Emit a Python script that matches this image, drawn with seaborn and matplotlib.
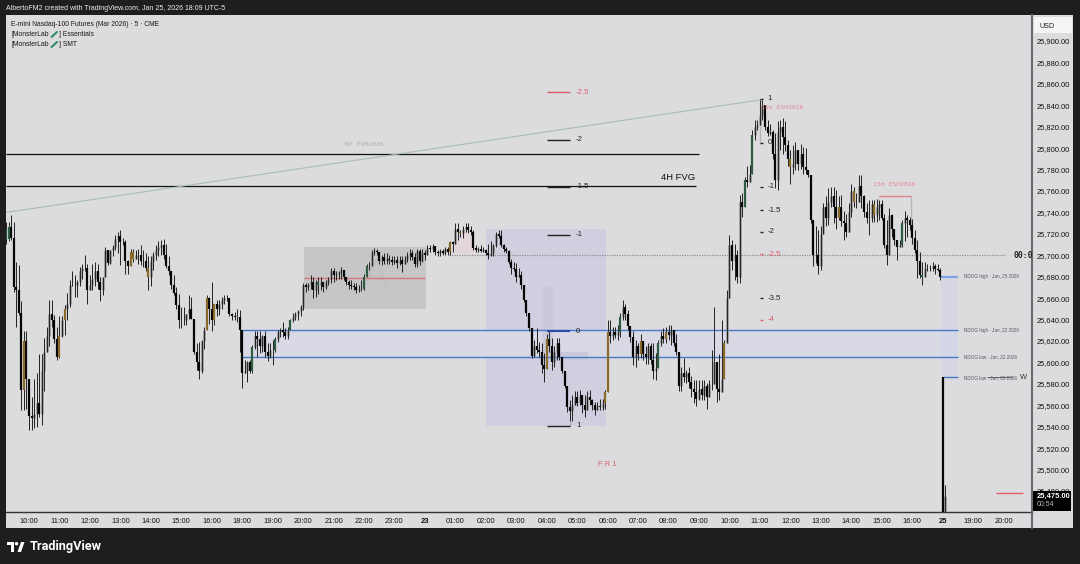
import matplotlib
matplotlib.use('Agg')
import matplotlib.pyplot as plt
from matplotlib.patches import Rectangle, Ellipse, Polygon
import pandas as pd
import seaborn as sns

# first bar of the data is bar -9 (09:35), bar 0 is the 10:00 candle
first_bar = -9

highs = [25731,25731,25738,25731,25694,25691,25657,25629,25629,25585,
    25568,25585,25590,25608,25608,25623,25633,25658,25658,25644,
    25633,25643,25643,25654,25665,25677,25685,25682,25677,25689,
    25692,25700,25692,25682,25692,25694,25692,25680,25680,25708,
    25705,25705,25710,25719,25722,25724,25716,25714,25696,25706,
    25706,25705,25706,25710,25705,25702,25699,25699,25703,25710,
    25713,25714,25715,25711,25699,25682,25682,25670,25664,25652,
    25652,25644,25663,25661,25641,25618,25619,25621,25633,25663,
    25661,25675,25655,25658,25658,25661,25663,25663,25658,25646,
    25647,25650,25649,25618,25602,25601,25602,25616,25629,25629,
    25629,25626,25629,25618,25618,25621,25624,25630,25632,25638,
    25632,25633,25641,25646,25647,25649,25654,25674,25674,25674,
    25682,25680,25677,25680,25680,25674,25677,25680,25688,25688,
    25685,25685,25689,25686,25680,25677,25677,25674,25674,25672,
    25677,25683,25692,25694,25705,25707,25706,25703,25700,25702,
    25702,25700,25699,25699,25699,25699,25699,25699,25703,25706,
    25705,25702,25706,25706,25706,25705,25710,25710,25711,25706,
    25705,25706,25706,25708,25708,25713,25713,25730,25730,25724,
    25727,25730,25730,25727,25724,25710,25708,25710,25708,25706,
    25711,25713,25711,25722,25724,25724,25711,25708,25705,25697,
    25694,25693,25688,25685,25671,25657,25644,25632,25621,25632,
    25619,25618,25609,25627,25629,25623,25615,25623,25623,25604,
    25590,25576,25565,25570,25573,25573,25574,25566,25570,25573,
    25574,25566,25563,25563,25566,25566,25574,25640,25640,25633,
    25633,25635,25646,25658,25655,25649,25633,25629,25621,25618,
    25627,25618,25615,25618,25618,25618,25609,25621,25629,25632,
    25633,25635,25635,25630,25627,25607,25596,25604,25593,25596,
    25587,25584,25584,25584,25584,25584,25581,25584,25612,25652,
    25593,25608,25640,25621,25668,25719,25714,25711,25705,25756,
    25758,25773,25783,25784,25817,25826,25826,25845,25845,25834,
    25826,25823,25817,25814,25825,25826,25828,25825,25808,25798,
    25803,25806,25798,25804,25801,25800,25780,25775,25730,25727,
    25724,25727,25749,25755,25763,25764,25764,25761,25755,25756,
    25741,25739,25749,25767,25764,25758,25775,25775,25756,25749,
    25752,25752,25752,25753,25752,25752,25739,25733,25744,25739,
    25724,25714,25714,25733,25741,25738,25736,25734,25724,25714,
    25703,25694,25694,25692,25691,25694,25692,25692,25688,25586,
    25486]

lows = [25711,25713,25714,25666,25633,25644,25556,25556,25557,25537,
    25537,25539,25540,25549,25542,25573,25615,25615,25633,25618,
    25602,25604,25624,25626,25640,25652,25671,25661,25661,25671,
    25678,25685,25655,25668,25668,25671,25669,25657,25663,25680,
    25691,25692,25699,25705,25702,25691,25710,25683,25683,25692,
    25694,25697,25692,25691,25689,25685,25668,25671,25686,25696,
    25699,25700,25697,25688,25682,25669,25663,25650,25632,25632,
    25635,25635,25641,25641,25608,25593,25585,25590,25613,25632,
    25636,25629,25635,25643,25644,25650,25655,25657,25643,25640,
    25640,25638,25610,25576,25590,25582,25590,25590,25613,25605,
    25609,25610,25605,25601,25604,25598,25610,25619,25624,25624,
    25622,25622,25632,25638,25640,25640,25643,25649,25666,25668,
    25669,25660,25661,25664,25668,25666,25669,25672,25674,25675,
    25677,25678,25678,25677,25672,25669,25669,25668,25665,25666,
    25667,25668,25680,25686,25692,25700,25700,25692,25691,25692,
    25692,25692,25691,25692,25688,25691,25684,25692,25694,25696,
    25696,25689,25689,25691,25694,25696,25700,25703,25703,25700,
    25699,25699,25700,25700,25700,25700,25703,25711,25714,25717,
    25716,25722,25721,25719,25705,25703,25703,25703,25703,25700,
    25697,25699,25699,25708,25716,25708,25703,25702,25692,25683,
    25685,25675,25680,25669,25656,25643,25629,25604,25605,25609,
    25605,25590,25582,25598,25610,25593,25596,25602,25602,25590,
    25576,25554,25545,25545,25560,25559,25560,25553,25549,25559,
    25560,25556,25551,25556,25556,25556,25557,25573,25618,25621,
    25623,25621,25624,25640,25640,25630,25619,25598,25596,25602,
    25604,25602,25599,25599,25599,25585,25584,25596,25615,25618,
    25618,25621,25616,25615,25607,25573,25573,25582,25581,25576,
    25568,25562,25559,25565,25565,25565,25557,25568,25574,25585,
    25563,25565,25579,25590,25623,25661,25686,25677,25674,25674,
    25736,25745,25764,25770,25783,25808,25817,25825,25826,25817,
    25811,25812,25790,25763,25761,25798,25795,25797,25783,25767,
    25776,25780,25780,25781,25776,25776,25773,25730,25690,25693,
    25683,25686,25720,25727,25728,25745,25730,25725,25733,25727,
    25714,25717,25725,25736,25745,25744,25755,25744,25736,25730,
    25719,25731,25731,25731,25733,25733,25707,25691,25724,25717,
    25710,25696,25708,25708,25713,25717,25724,25711,25702,25679,
    25679,25672,25680,25685,25685,25685,25683,25685,25677,25440,
    25440]

closes = [25715,25726,25716,25670,25668,25646,25574,25620,25585,25550,
    25548,25552,25562,25552,25592,25610,25625,25645,25640,25622,
    25605,25625,25640,25650,25655,25672,25672,25672,25675,25685,
    25688,25688,25668,25672,25678,25685,25675,25668,25680,25705,
    25693,25705,25708,25715,25718,25712,25712,25695,25690,25703,
    25697,25700,25700,25695,25695,25688,25680,25695,25700,25705,
    25708,25710,25700,25690,25685,25672,25665,25654,25640,25640,
    25640,25645,25650,25641,25610,25600,25592,25620,25630,25660,
    25650,25640,25655,25650,25655,25658,25660,25660,25645,25643,
    25642,25642,25630,25590,25592,25600,25592,25614,25625,25622,
    25615,25625,25610,25606,25612,25612,25622,25628,25630,25628,
    25625,25630,25640,25642,25645,25648,25652,25672,25670,25672,
    25675,25668,25675,25672,25675,25670,25675,25678,25685,25682,
    25683,25684,25686,25680,25675,25672,25671,25670,25668,25669,
    25669,25680,25690,25690,25703,25704,25703,25695,25698,25695,
    25697,25696,25694,25696,25693,25696,25692,25697,25700,25702,
    25698,25692,25704,25695,25702,25700,25707,25706,25709,25703,
    25702,25704,25702,25706,25703,25712,25711,25725,25722,25721,
    25725,25726,25724,25722,25707,25705,25706,25704,25705,25702,
    25700,25702,25710,25720,25718,25710,25706,25704,25694,25688,
    25687,25680,25682,25672,25658,25646,25632,25606,25615,25612,
    25610,25598,25594,25622,25615,25600,25610,25618,25605,25592,
    25578,25558,25555,25560,25568,25562,25570,25560,25556,25568,
    25565,25560,25556,25559,25558,25562,25572,25628,25625,25628,
    25626,25628,25642,25652,25645,25634,25624,25605,25615,25608,
    25620,25608,25605,25615,25602,25592,25595,25618,25625,25622,
    25628,25626,25630,25618,25610,25578,25590,25586,25590,25582,
    25575,25572,25566,25575,25570,25578,25568,25580,25580,25600,
    25575,25572,25585,25618,25660,25710,25695,25700,25680,25750,
    25745,25770,25768,25776,25812,25820,25822,25830,25840,25820,
    25814,25815,25795,25770,25815,25820,25810,25803,25790,25782,
    25785,25798,25785,25795,25782,25780,25775,25733,25700,25700,
    25690,25720,25745,25735,25750,25755,25745,25735,25745,25732,
    25730,25722,25740,25760,25750,25750,25765,25755,25740,25735,
    25735,25748,25738,25745,25748,25735,25710,25700,25738,25725,
    25714,25708,25710,25730,25735,25733,25728,25716,25705,25695,
    25682,25680,25688,25688,25688,25690,25687,25686,25680,25450,
    25475]

# opens follow the previous close, except at the Sunday reopen
first_open = 25725
gap_opens = {360: 25586}
orange_bars = [-2, 12, 14, 40, 41, 47, 70, 73, 166, 170, 204, 227, 228, 241, 251, 274, 300, 319, 325, 333]
green_bars = [-9, -8, 88, 96, 97, 103, 114, 132, 133, 233, 248, 282, 285, 344, 352]

price_ticks = list(range(25480, 25901, 20))
time_ticks = [0, 12, 24, 36, 48, 60, 72, 84, 96, 108, 120, 132, 144, 156, 168, 180, 192, 204, 216, 228,
              240, 252, 264, 276, 288, 300, 312, 324, 336, 348, 360, 372, 384]
time_labels = ['10:00', '11:00', '12:00', '13:00', '14:00', '15:00', '16:00', '18:00', '19:00', '20:00',
               '21:00', '22:00', '23:00', '23', '01:00', '02:00', '03:00', '04:00', '05:00', '06:00',
               '07:00', '08:00', '09:00', '10:00', '11:00', '12:00', '13:00', '14:00', '15:00', '16:00',
               '25', '19:00', '20:00']

fib_left_levels = [25852, 25808, 25764, 25719, 25629, 25541]
fib_left_labels = ['-2.5', '-2', '-1.5', '-1', '0', '1']
fib_right_levels = [25846, 25805, 25764, 25742, 25722, 25701, 25660, 25640]
fib_right_labels = ['1', '0', '-1', '-1.5', '-2', '-2.5', '-3.5', '-4']
ndog_levels = [25680, 25630, 25605, 25586]
ndog_labels = ['NDOG high · Jan, 25 2026', 'NDOG high · Jan, 22 2026', 'NDOG low · Jan, 22 2026', 'NDOG low · Jan, 05 2026']

BG = '#dcdbde'
DARK = '#1f1d20'
RED = '#d9606a'
BLUE = '#4a78c8'
MONO = 'DejaVu Sans Mono'
SANS = 'Liberation Sans'

sns.set_theme(style='white', rc={'axes.facecolor': BG, 'figure.facecolor': DARK})
plt.rcParams['font.family'] = [SANS, 'DejaVu Sans']

# candle table
rows = []
for n, (h, l, c) in enumerate(zip(highs, lows, closes)):
    bar = first_bar + n
    o = gap_opens.get(bar, first_open if n == 0 else closes[n - 1])
    if bar in orange_bars:
        kind = 'orange'
    elif bar in green_bars:
        kind = 'green'
    elif c >= o:
        kind = 'up'
    else:
        kind = 'down'
    rows.append({'bar': bar, 'open': o, 'high': max(h, o, c), 'low': min(l, o, c), 'close': c, 'kind': kind})
df = pd.DataFrame(rows)

fig = plt.figure(figsize=(10.8, 5.64), dpi=100)
ax = fig.add_axes([6 / 1080, 1 - 512 / 564, 1026 / 1080, 497 / 564])

# chrome panels around the plot
fig.patches.append(Rectangle((6 / 1080, 1 - 528 / 564), 1067 / 1080, 513 / 564, transform=fig.transFigure, facecolor=BG, edgecolor='none', zorder=-1))

ax.set_xlim(-9.06, 395.2)
ax.set_ylim(25460.4, 25924.3)

# zones
ax.add_patch(Rectangle((108.4, 25650), 48, 58, color='#c6c5c7', lw=0, zorder=1))
ax.add_patch(Rectangle((180, 25541), 47.3, 184, color='#cfcfdf', lw=0, zorder=1))
ax.fill_between([83.5, 366], 25604, 25630, color='#d8d9e5', lw=0, zorder=1)
ax.fill_between([359.5, 366], 25586, 25680, color='#cdd2ea', alpha=0.4, lw=0, zorder=1)
ax.fill([166, 172, 177], [25702, 25727, 25702], color='#e3d6da', lw=0, zorder=1)
ax.text(136.7, 25682, 'A', fontsize=25, family='DejaVu Sans', color='#c1c0c3', ha='center', va='center', zorder=1.5)
ax.text(198.2, 25602, 'L', fontsize=72, family='DejaVu Sans', color='#c9c9da', ha='left', va='baseline', zorder=1.5)


def hline(x0, x1, y, color='#222222', lw=1.0, ls='-', z=2):
    sns.lineplot(x=[x0, x1], y=[y, y], color=color, lw=lw, ls=ls, ax=ax, zorder=z, legend=False, solid_capstyle='butt')


# levels drawn under the candles
hline(-9, 264, 25795, color='#111111', lw=0.9)
hline(-9, 262.8, 25765, color='#111111', lw=0.9)
hline(108.4, 156, 25679, color='#d9777e')
hline(83.5, 366, 25630, color=BLUE)
hline(83.5, 366, 25605, color=BLUE)
hline(359.5, 366, 25680, color='#7fa3e6', lw=1.6)
hline(360, 366, 25586, color=BLUE)
hline(165.5, 384.5, 25700, color='#8d8d8d', lw=0.9, ls=(0, (1, 1)))
sns.lineplot(x=[-9, 288], y=[25740, 25845], color='#a9bcb4', lw=0.8, ax=ax, zorder=2, legend=False)

# up candles go under the wicks, the rest on top of them
body_colors = {'down': '#050505', 'up': '#8f8f8f', 'orange': '#8a6a2c', 'green': '#2d5c40'}
for kind, color in body_colors.items():
    part = df[df['kind'] == kind]
    bodies = pd.concat([part[['bar', 'open']].rename(columns={'open': 'price'}),
                        part[['bar', 'close']].rename(columns={'close': 'price'})])
    sns.lineplot(data=bodies, x='bar', y='price', units='bar', estimator=None, color=color, lw=1.8 if kind == 'up' else 1.6,
                 ax=ax, zorder=3 if kind == 'up' else 4, legend=False, solid_capstyle='butt')

wicks = pd.concat([df[['bar', 'high']].rename(columns={'high': 'price'}),
                   df[['bar', 'low']].rename(columns={'low': 'price'})])
sns.lineplot(data=wicks, x='bar', y='price', units='bar', estimator=None, color='#222222', lw=0.7,
             ax=ax, zorder=3.5, legend=False, solid_capstyle='butt')

# left fib
for lev, lab in zip(fib_left_levels, fib_left_labels):
    red = lab == '-2.5'
    blue = lab == '0'
    hline(204, 213, lev, color=RED if red else ('#2c4aa8' if blue else '#222222'), lw=1.5 if blue else 1.0, z=5)
    ax.text(215.5, lev, lab, fontsize=5.6, color=RED if red else '#222222', va='center', zorder=6)
sns.lineplot(x=[213, 213], y=[25541, 25545], color='#222222', lw=1, ax=ax, zorder=5, legend=False)
ax.text(228, 25505, 'F R 1', fontsize=5.4, color=RED, ha='center', va='center')

# right fib
for lev, lab in zip(fib_right_levels, fib_right_labels):
    red = lab in ('-2.5', '-4')
    hline(288, 289.4, lev, color=RED if red else '#222222', z=5)
    ax.text(291, lev, lab, fontsize=5.6, color=RED if red else '#222222', va='center', zorder=6)
sns.lineplot(x=[288, 288], y=[25805, 25846], color='#222222', lw=0.7, ax=ax, zorder=5, legend=False)

# other labels on the chart
ax.text(262.5, 25773, '4H FVG', fontsize=6.8, color='#111111', ha='right', va='center')
ax.text(132, 25803, 'NY ESH2026', fontsize=4.6, family=MONO, color='#aeaeb0', ha='center', va='center')
ax.text(296.7, 25837.5, '15m ESH2026', fontsize=4.6, family=MONO, color='#e58a92', ha='center', va='center', zorder=6)
ax.text(341, 25766, '15m ESH2026', fontsize=4.6, family=MONO, color='#e58a92', ha='center', va='center', zorder=6)
hline(335, 347.5, 25755, color='#e0848c', z=5)
sns.lineplot(x=[335, 335], y=[25750, 25755], color='#e0848c', lw=0.8, ax=ax, zorder=5, legend=False)
sns.lineplot(x=[347.5, 347.5], y=[25720, 25755], color='#222222', lw=0.9, ax=ax, zorder=5, legend=False)
for lev, lab in zip(ndog_levels, ndog_labels):
    ax.text(368.4, lev, lab, fontsize=3.3, color='#55555c', va='center')
hline(377.5, 387.5, 25586, color='#333333', lw=0.5)
ax.text(392, 25586, 'W', fontsize=5.4, color='#333333', ha='center', va='center')
ax.text(388.1, 25700, '00:00', fontsize=5.8, family=MONO, color='#222222', ha='left', va='center', fontweight='bold', clip_on=True)
hline(381, 391.5, 25478, color='#e0606a')

# axes
ax.yaxis.tick_right()
ax.set_yticks(price_ticks)
ax.set_yticklabels([f'{p:,.2f}' for p in price_ticks], fontsize=5.4, color='#111111')
ax.set_xticks(time_ticks)
ax.set_xticklabels(time_labels, fontsize=5.4, color='#111111')
for lab, text in zip(ax.get_xticklabels(), time_labels):
    if text in ('23', '25'):
        lab.set_fontweight('bold')
ax.tick_params(axis='both', length=0)
ax.tick_params(axis='y', pad=3.5)
ax.tick_params(axis='x', pad=4)
ax.set_xlabel('')
ax.set_ylabel('')
for side in ('top', 'left'):
    ax.spines[side].set_visible(False)
ax.spines['right'].set_color('#6a6a6e')
ax.spines['right'].set_linewidth(1.5)
ax.spines['bottom'].set_color('#333336')
ax.spines['bottom'].set_linewidth(1.0)

# vertical divider carries on through the time scale
fig.add_artist(plt.Line2D([1032 / 1080, 1032 / 1080], [1 - 528 / 564, 1 - 512 / 564], color='#6a6a6e', lw=1.5))

# price tag
fig.add_artist(Rectangle((1033 / 1080, 1 - 511 / 564), 38 / 1080, 20 / 564, facecolor='#000000', edgecolor='none', zorder=5))
fig.text(1037 / 1080, 1 - 496 / 564, '25,475.00', fontsize=5.4, color='white', ha='left', va='center', fontweight='bold', zorder=6)
fig.text(1037 / 1080, 1 - 505 / 564, '00:54', fontsize=5, color='#bbbbbb', ha='left', va='center', zorder=6)

# USD button
fig.add_artist(Rectangle((1034 / 1080, 1 - 33 / 564), 38 / 1080, 16 / 564, facecolor='#f4f4f5', edgecolor='none', zorder=5))
fig.text(1039 / 1080, 1 - 26 / 564, 'USD', fontsize=5.2, color='#222222', ha='left', va='center', zorder=6)

# header and legend
fig.text(6 / 1080, 1 - 8.5 / 564, 'AlbertoFM2 created with TradingView.com, Jan 25, 2026 18:09 UTC-5', fontsize=5.05, color='#f0f0f0', va='center')
fig.text(11 / 1080, 1 - 24.5 / 564, 'E-mini Nasdaq-100 Futures (Mar 2026) · 5 · CME', fontsize=4.9, color='#1a1a1a', va='center')
for y_px, tail in ((34.5, '] Essentials'), (44.5, '] SMT')):
    fig.text(11 / 1080, 1 - y_px / 564, '[MonsterLab', fontsize=4.9, color='#1a1a1a', va='center')
    fig.text(59 / 1080, 1 - y_px / 564, tail, fontsize=4.9, color='#1a1a1a', va='center')
    fig.add_artist(plt.Line2D([51.5 / 1080, 57 / 1080], [1 - (y_px + 2.5) / 564, 1 - (y_px - 2.5) / 564], color='#2f8f6a', lw=1.5, zorder=6))

# footer logo
fig.add_artist(Rectangle((7 / 1080, 1 - 545 / 564), 7 / 1080, 3 / 564, facecolor='white', edgecolor='none'))
fig.add_artist(Rectangle((11 / 1080, 1 - 552 / 564), 3 / 1080, 7 / 564, facecolor='white', edgecolor='none'))
fig.add_artist(Ellipse((16.5 / 1080, 1 - 543.7 / 564), 3.4 / 1080, 3.4 / 564, facecolor='white', edgecolor='none'))
fig.add_artist(Polygon([(17.5 / 1080, 1 - 552 / 564), (21 / 1080, 1 - 552 / 564), (24.5 / 1080, 1 - 542 / 564), (21 / 1080, 1 - 542 / 564)],
                       closed=True, facecolor='white', edgecolor='none'))
fig.text(29.5 / 1080, 1 - 546.5 / 564, 'TradingView', fontsize=9.2, family='Roboto', color='white', va='center', fontweight='bold')

fig.savefig('out.png', dpi=100, facecolor=DARK)
